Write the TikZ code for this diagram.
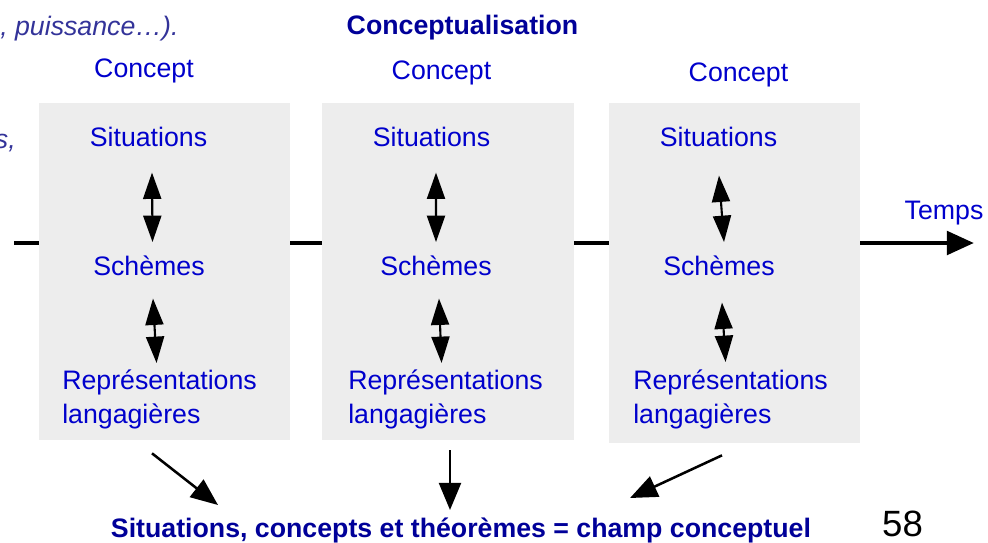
\documentclass[tikz,border=0pt]{standalone}
\usepackage{fontspec}
\setmainfont{Liberation Sans}
\usetikzlibrary{arrows.meta,calc}
\definecolor{CcBlue}{RGB}{0,0,204}
\definecolor{CcDark}{RGB}{0,0,153}
\definecolor{CcSoft}{RGB}{51,51,153}
\definecolor{CcFill}{RGB}{237,237,237}
\tikzset{
  cc/box/.style={
    draw=none,
    fill=CcFill,
    minimum width=6.275cm,
    minimum height=8.425cm,
    inner sep=0pt
  },
  cc/text/.style={
    font=\fontsize{19}{23.5}\selectfont,
    text=CcBlue,
    inner sep=0pt,
    anchor=base
  },
  cc/title/.style={font=\fontsize{19}{23.5}\selectfont\bfseries, text=CcDark, inner sep=0pt, anchor=base},
  cc/soft/.style={font=\fontsize{19}{23.5}\selectfont\itshape, text=CcSoft, inner sep=0pt},
  cc/dbl/.style={{Triangle[length=0.66cm,width=0.45cm]}-{Triangle[length=0.66cm,width=0.45cm]}, line width=1.5pt},
  cc/arrow/.style={-{Triangle[length=0.68cm,width=0.55cm]}, line width=1.8pt},
  cc/timeline/.style={line width=3.5pt},
  cc/timearrow/.style={-{Triangle[length=0.68cm,width=0.58cm]}, line width=3.5pt}
}

\begin{document}
\begin{tikzpicture}[x=0.025cm,y=-0.025cm]
  \useasboundingbox (0,0) rectangle (988,542);
  % partial text of the slide
  \node[cc/soft,anchor=base west] (puiss) at (0,35) {, puissance…).};
  \node[cc/soft,anchor=base east] (frag) at (16,148) {s,};
  \node[cc/title] (concept) at (462.5,34) {Conceptualisation};
  % the three concepts
  \node[cc/box] (box1) at (164.5,271.5) {};
  \node[cc/box] (box2) at (448,271.5) {};
  \node[cc/box,minimum height=8.5cm] (box3) at (734.5,273) {};
  \node[cc/text] (name1) at (144,77) {Concept};
  \node[cc/text] (name2) at (441.5,79) {Concept};
  \node[cc/text] (name3) at (738.5,81) {Concept};
  \node[cc/text] (sit1) at (148.5,146) {Situations};
  \node[cc/text] (sit2) at (431.5,146) {Situations};
  \node[cc/text] (sit3) at (718.5,146) {Situations};
  \node[cc/text] (sch1) at (149,275) {Schèmes};
  \node[cc/text] (sch2) at (436,275) {Schèmes};
  \node[cc/text] (sch3) at (719,275) {Schèmes};
  \node[cc/text,anchor=north west,align=left] (rep1) at (62,370) {Représentations\\langagières};
  \node[cc/text,anchor=north west,align=left] (rep2) at (348,370) {Représentations\\langagières};
  \node[cc/text,anchor=north west,align=left] (rep3) at (633,370) {Représentations\\langagières};
  \draw[cc/dbl] ($(sit1.south)+(3.5,26)$) -- ($(sch1.north)+(3.5,-13)$);
  \draw[cc/dbl] ($(sch1.south)+(4,23)$) -- ($(rep1.north)+(-3,-7)$);
  \draw[cc/dbl] ($(sit2.south)+(4.5,26)$) -- ($(sch2.north)+(0,-13)$);
  \draw[cc/dbl] ($(sch2.south)+(3,23)$) -- ($(rep2.north)+(-4,-7)$);
  \draw[cc/dbl] ($(sit3.south)+(0.5,29)$) -- ($(sch3.north)+(5,-13)$);
  \draw[cc/dbl] ($(sch3.south)+(3,27)$) -- ($(rep3.north)+(-5,-8)$);
  % time line
  \coordinate (t0) at (14,243);
  \coordinate (tend) at (974,243);
  \draw[cc/timeline] (t0) -- (t0 -| box1.west);
  \draw[cc/timeline] (box1.east |- t0) -- (box2.west |- t0);
  \draw[cc/timeline] (box2.east |- t0) -- (box3.west |- t0);
  \draw[cc/timearrow] (box3.east |- t0) -- (tend);
  \node[cc/text] (temps) at (944,219) {Temps};
  % field
  \node[cc/title] (champ) at (461,537) {Situations, concepts et théorèmes = champ conceptuel};
  \coordinate (tip1) at (218,505);
  \coordinate (tip2) at (450,510);
  \coordinate (tip3) at (630,498);
  \draw[cc/arrow] ($(box1.south)+(-12.5,13)$) -- (tip1);
  \draw[cc/arrow] ($(box2.south)+(2,10)$) -- (tip2);
  \draw[cc/arrow] ($(box3.south)+(-12.5,12)$) -- (tip3);
  \node[font=\fontsize{26}{30}\selectfont,inner sep=0pt,anchor=base] (page) at (902.5,536) {58};
\end{tikzpicture}
\end{document}
